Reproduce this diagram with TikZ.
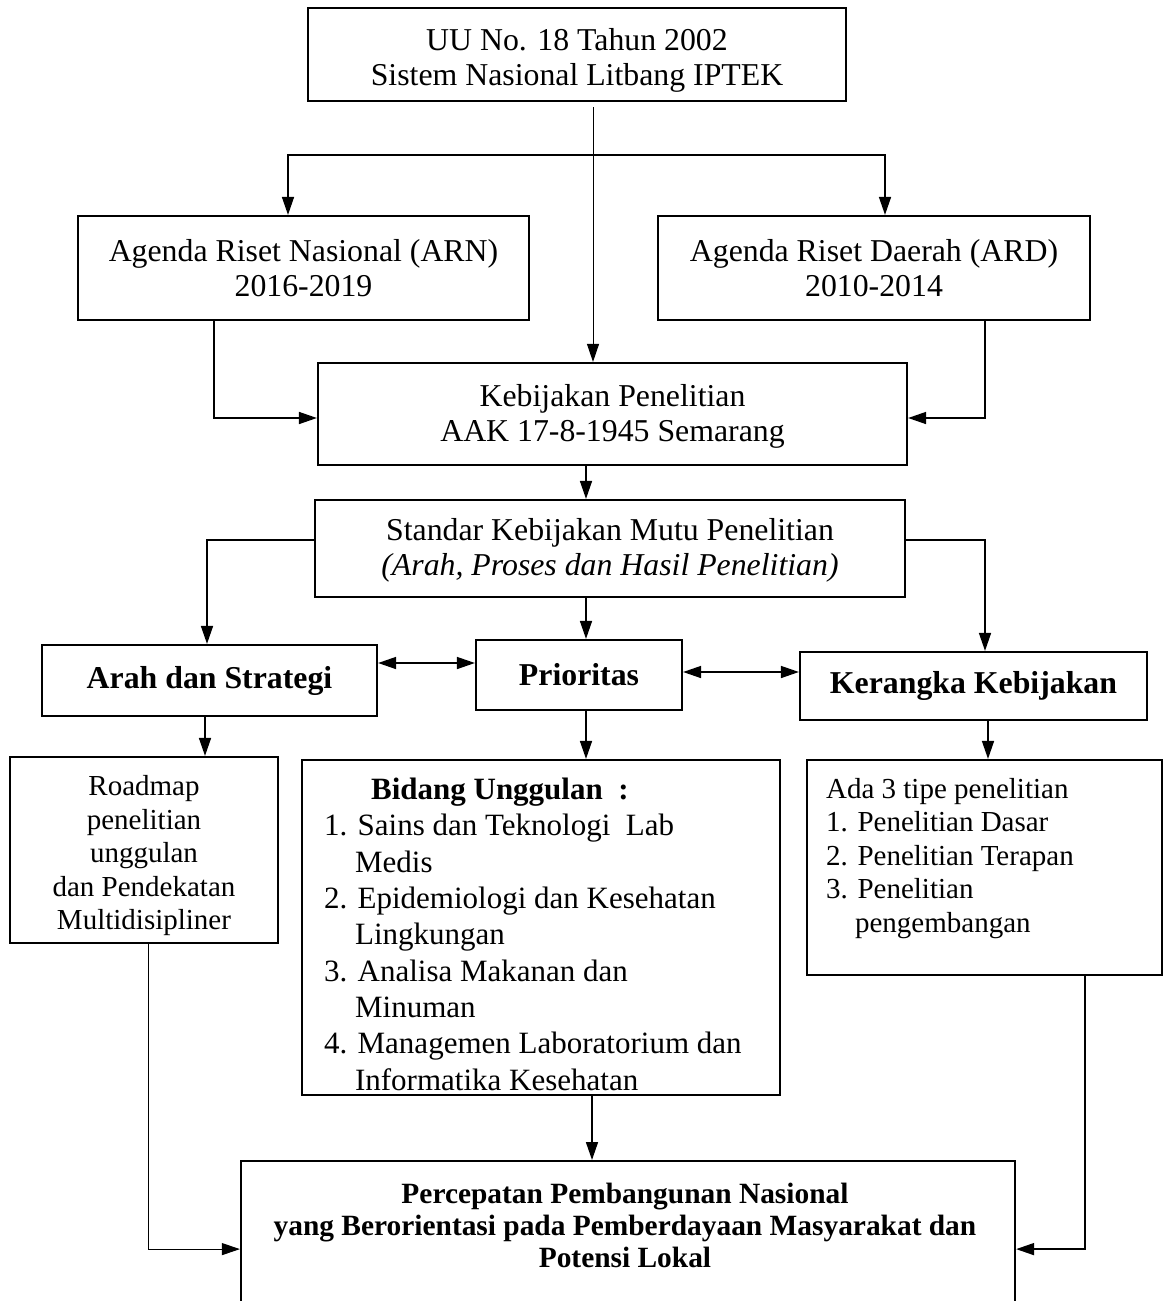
\documentclass[tikz,border=0pt]{standalone}
\usepackage{fontspec}
\setmainfont{Liberation Serif}
\usetikzlibrary{arrows.meta,positioning}
\newcommand{\bigtext}{\fontsize{31.8}{35}\selectfont}
\newcommand{\listtext}{\fontsize{31}{36.3}\selectfont}
\newcommand{\smalltext}{\fontsize{29}{33.5}\selectfont}
\newcommand{\goaltext}{\fontsize{29.4}{32}\selectfont\bfseries}

\begin{document}
\begin{tikzpicture}[x=1pt, y=1pt,
    box/.style={draw, line width=2.2pt, inner sep=0pt, align=center, font=\bigtext},
    conn/.style={line width=1.6pt, -{Triangle[length=18pt,width=12pt]}},
    trunk/.style={line width=1pt, -{Triangle[length=18pt,width=12pt]}},
    both/.style={line width=1.6pt, {Triangle[length=18pt,width=12pt]}-{Triangle[length=18pt,width=12pt]}}]
  \useasboundingbox (0,0) rectangle (1168,-1301);

  \node[box, minimum width=538, minimum height=93] (uu) at (577,-54.5)
    {\rule{0pt}{33pt}UU No. 18 Tahun 2002\\Sistem Nasional Litbang IPTEK};
  \node[box, minimum width=451, minimum height=104] (arn) at (303.5,-268)
    {Agenda Riset Nasional (ARN)\\2016-2019};
  \node[box, minimum width=432, minimum height=104] (ard) at (874,-268)
    {Agenda Riset Daerah (ARD)\\2010-2014};
  \node[box, minimum width=589, minimum height=102] (keb) at (612.5,-414)
    {\rule{0pt}{27pt}Kebijakan Penelitian\\AAK 17-8-1945 Semarang};
  \node[box, minimum width=590, minimum height=97] (std) at (610,-548.5)
    {\rule{0pt}{26pt}Standar Kebijakan Mutu Penelitian\\\textit{(Arah, Proses dan Hasil Penelitian)}};
  \node[box, minimum width=335, minimum height=71, font=\bigtext\bfseries] (arah) at (209.5,-680.5)
    {Arah dan Strategi};
  \node[box, minimum width=206, minimum height=70, font=\bigtext\bfseries] (prio) at (579,-675)
    {Prioritas};
  \node[box, minimum width=347, minimum height=68, font=\bigtext\bfseries] (ker) at (973.5,-686)
    {Kerangka Kebijakan};
  \node[box, minimum width=268, minimum height=186, font=\smalltext] (road) at (144,-850)
    {\rule{0pt}{32pt}Roadmap\\penelitian\\unggulan\\dan Pendekatan\\Multidisipliner};
  \node[box, minimum width=478, minimum height=335] (bid) at (541,-927.5) {};
  \node[anchor=north west, align=left, inner sep=0pt, font=\listtext] (bidtext)
    at ([xshift=23,yshift=-19]bid.north west)
    {\hspace*{47pt}\textbf{Bidang Unggulan\ \ :}\\
     1. Sains dan Teknologi\ \ Lab\\
     \phantom{1.}\ Medis\\
     2. Epidemiologi dan Kesehatan\\
     \phantom{2.}\ Lingkungan\\
     3. Analisa Makanan dan\\
     \phantom{3.}\ Minuman\\
     4. Managemen Laboratorium dan\\
     \phantom{4.}\ Informatika Kesehatan};
  \node[box, minimum width=355, minimum height=215] (ada) at (984.5,-867.5) {};
  \node[anchor=north west, align=left, inner sep=0pt, font=\smalltext] (adatext)
    at ([xshift=20,yshift=-19]ada.north west)
    {Ada 3 tipe penelitian\\
     1. Penelitian Dasar\\
     2. Penelitian Terapan\\
     3. Penelitian\\
     \phantom{3.}\ pengembangan};
  \node[box, minimum width=774, minimum height=180, anchor=north] (perc) at (628,-1160) {};
  \node[align=center, inner sep=0pt, font=\goaltext] (perctext) at ([xshift=-3,yshift=-65]perc.north)
    {Percepatan Pembangunan Nasional\\
     yang Berorientasi pada Pemberdayaan Masyarakat dan\\
     Potensi Lokal};

  \coordinate (top) at (593,-107);
  \coordinate (split) at (593,-155);
  \draw[trunk] (top) -- (top |- keb.north);
  \draw[conn] (split) -| ([xshift=-15.5]arn.north);
  \draw[conn] (split) -| ([xshift=11]ard.north);
  \draw[conn] ([xshift=-89.5]arn.south) |- ([yshift=-4]keb.west);
  \draw[conn] ([xshift=111]ard.south) |- ([yshift=-4]keb.east);
  \draw[conn] ([xshift=-26.5]keb.south) -- ([xshift=-24]std.north);
  \draw[conn] ([yshift=8.5]std.west) -| ([xshift=-2.5]arah.north);
  \draw[conn] ([xshift=-24]std.south) -- ([xshift=7]prio.north);
  \draw[conn] ([yshift=8.5]std.east) -| ([xshift=11.5]ker.north);
  \draw[both] ([yshift=17.5]arah.east) -- ([yshift=12]prio.west);
  \draw[both] ([yshift=3]prio.east) -- ([yshift=14]ker.west);
  \draw[conn] ([xshift=-4.5]arah.south) -- ([xshift=61]road.north);
  \draw[conn] ([xshift=7]prio.south) -- ([xshift=45]bid.north);
  \draw[conn] ([xshift=14.5]ker.south) -- ([xshift=3.5]ada.north);
  \draw[conn] ([xshift=51]bid.south) -- ([xshift=-36]perc.north);
  \draw[trunk] ([xshift=4]road.south) |- ([yshift=2]perc.west);
  \draw[conn] ([xshift=100.5]ada.south) |- ([yshift=2]perc.east);
\end{tikzpicture}
\end{document}
